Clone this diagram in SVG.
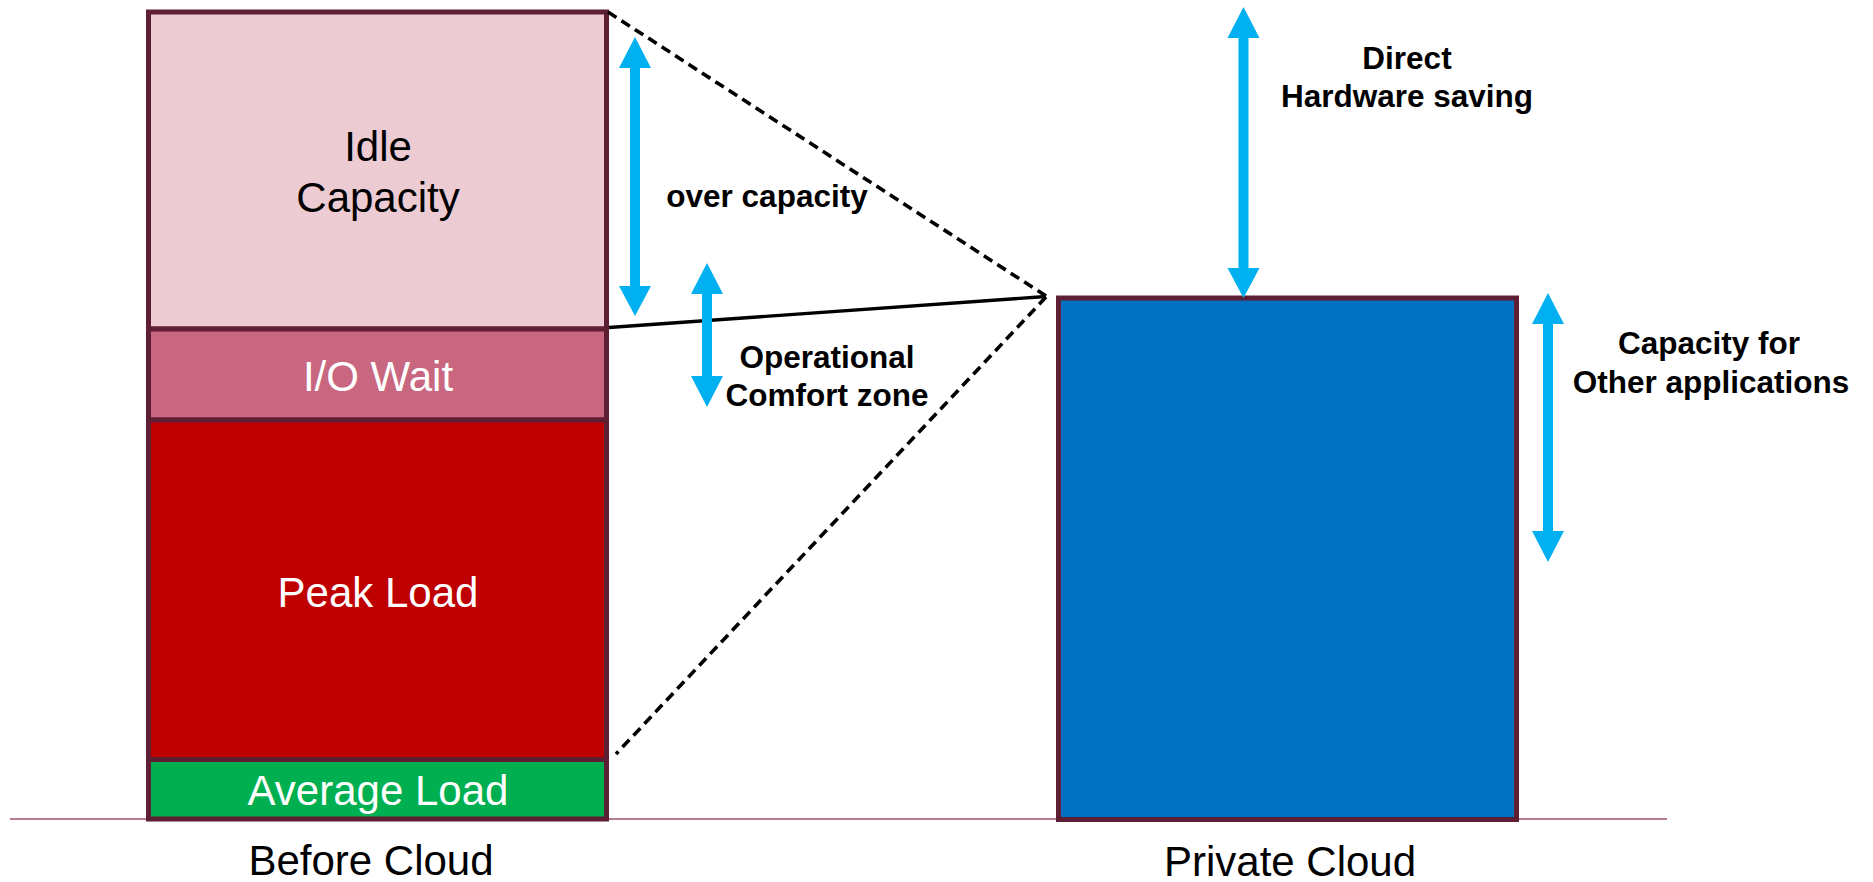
<svg xmlns="http://www.w3.org/2000/svg" width="1873" height="882" viewBox="0 0 1873 882">
<style>
.box{stroke:#5E1F34;stroke-width:5;stroke-linejoin:miter}
.lbl{font-family:"Liberation Sans",Arial,sans-serif;font-size:42px;text-anchor:middle}
.note{font-family:"Liberation Sans",Arial,sans-serif;font-size:31.5px;font-weight:bold;text-anchor:middle;fill:#000}
.arrow{fill:#00B0F0}
.dash{stroke:#000;stroke-width:3.6;fill:none;stroke-dasharray:10 6}
.solid{stroke:#000;stroke-width:3.4;fill:none}
</style>
<rect width="1873" height="882" fill="#fff"/>
<line x1="10" y1="819" x2="1667" y2="819" stroke="#A0526A" stroke-width="1.5"/>
<g id="idle-capacity">
<rect class="box" x="148.5" y="12" width="458" height="317" fill="#EDCBD3"/>
<text class="lbl" x="378" y="161" fill="#000">Idle</text>
<text class="lbl" x="378" y="212" fill="#000">Capacity</text>
</g>
<g id="io-wait">
<rect class="box" x="148.5" y="329" width="458" height="91" fill="#C96780"/>
<text class="lbl" x="378" y="391" fill="#fff">I/O Wait</text>
</g>
<g id="peak-load">
<rect class="box" x="148.5" y="420" width="458" height="339.5" fill="#BF0000"/>
<text class="lbl" x="378" y="607" fill="#fff">Peak Load</text>
</g>
<g id="average-load">
<rect class="box" x="148.5" y="759.5" width="458" height="59.5" fill="#00B050"/>
<text class="lbl" x="378" y="805" fill="#fff">Average Load</text>
</g>
<g id="private-cloud">
<rect class="box" x="1058.5" y="298" width="458" height="521.5" fill="#0070C0"/>
</g>
<g id="connectors">
<line class="dash" x1="608" y1="12" x2="1046" y2="296"/>
<line class="solid" x1="609" y1="327.5" x2="1046" y2="296.5"/>
<line class="dash" x1="1046" y1="297" x2="616" y2="754"/>
<polygon class="arrow" points="635,37 651,68 640,68 640,286 651,286 635,316 619,286 630,286 630,68 619,68"/>
<polygon class="arrow" points="707,263 723,294 712,294 712,376 723,376 707,407 691,376 702,376 702,294 691,294"/>
<polygon class="arrow" points="1243.5,7 1259.5,38 1248.5,38 1248.5,268 1259.5,268 1243.5,298 1227.5,268 1238.5,268 1238.5,38 1227.5,38"/>
<polygon class="arrow" points="1548,293 1564,324 1553,324 1553,531 1564,531 1548,562 1532,531 1543,531 1543,324 1532,324"/>
</g>
<g id="labels">
<text class="note" x="767" y="207">over capacity</text>
<text class="note" x="827" y="368">Operational</text>
<text class="note" x="827" y="406">Comfort zone</text>
<text class="note" x="1407" y="69">Direct</text>
<text class="note" x="1407" y="107">Hardware saving</text>
<text class="note" x="1709" y="354">Capacity for</text>
<text class="note" x="1711" y="393">Other applications</text>
<text class="lbl" x="371" y="875" fill="#000">Before Cloud</text>
<text class="lbl" x="1290" y="876" fill="#000">Private Cloud</text>
</g>
</svg>
